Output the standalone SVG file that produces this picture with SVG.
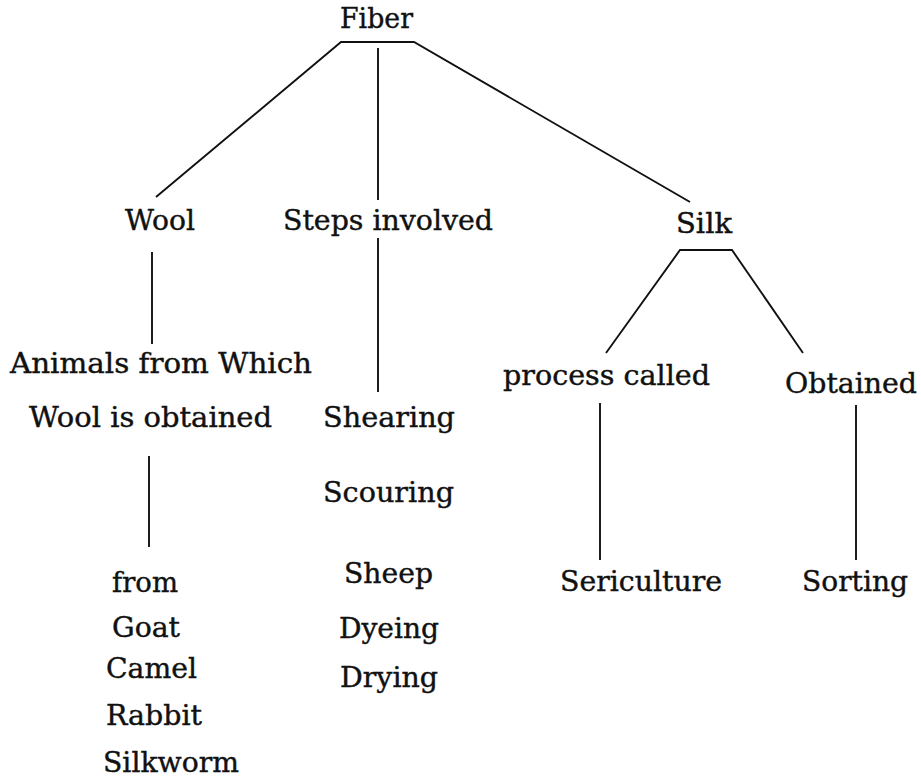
<svg xmlns="http://www.w3.org/2000/svg" width="921" height="780" viewBox="0 0 921 780">
<style>
text{font-family:"DejaVu Serif","Liberation Serif",serif;font-size:27px;fill:#111;stroke:#111;stroke-width:0.4}
.c line,.c polyline{stroke:#111;stroke-width:1.9;fill:none}
</style>
<rect width="921" height="780" fill="#fff"/>
<g class="c" id="connectors">
<polyline points="156,197 341,42 414,42 690,202"/>
<line x1="378" y1="48" x2="378" y2="200"/>
<line x1="152" y1="252" x2="152" y2="344"/>
<line x1="378" y1="238" x2="378" y2="392"/>
<line x1="149" y1="456" x2="149" y2="547"/>
<polyline points="606,353 680,250 732,250 803,353"/>
<line x1="600" y1="403" x2="600" y2="560"/>
<line x1="856" y1="405" x2="856" y2="560"/>
</g>
<g id="fiber"><text x="340" y="28" textLength="73" lengthAdjust="spacingAndGlyphs">Fiber</text></g>
<g id="wool"><text x="125" y="230" textLength="70" lengthAdjust="spacingAndGlyphs">Wool</text></g>
<g id="steps"><text x="283" y="230" textLength="210" lengthAdjust="spacingAndGlyphs">Steps involved</text></g>
<g id="silk"><text x="676" y="233" textLength="56" lengthAdjust="spacingAndGlyphs">Silk</text></g>
<g id="animals">
<text x="10" y="373" textLength="302" lengthAdjust="spacingAndGlyphs">Animals from Which</text>
<text x="29" y="427" textLength="243" lengthAdjust="spacingAndGlyphs">Wool is obtained</text>
</g>
<g id="stepslist">
<text x="323" y="427" textLength="132" lengthAdjust="spacingAndGlyphs">Shearing</text>
<text x="323" y="502" textLength="131" lengthAdjust="spacingAndGlyphs">Scouring</text>
<text x="344" y="583" textLength="89" lengthAdjust="spacingAndGlyphs">Sheep</text>
<text x="339" y="638" textLength="100" lengthAdjust="spacingAndGlyphs">Dyeing</text>
<text x="340" y="687" textLength="98" lengthAdjust="spacingAndGlyphs">Drying</text>
</g>
<g id="process"><text x="503" y="385" textLength="207" lengthAdjust="spacingAndGlyphs">process called</text></g>
<g id="obtained"><text x="785" y="393" textLength="132" lengthAdjust="spacingAndGlyphs">Obtained</text></g>
<g id="sericulture"><text x="560" y="591" textLength="162" lengthAdjust="spacingAndGlyphs">Sericulture</text></g>
<g id="sorting"><text x="802" y="591" textLength="106" lengthAdjust="spacingAndGlyphs">Sorting</text></g>
<g id="fromlist">
<text x="112" y="592" textLength="66" lengthAdjust="spacingAndGlyphs">from</text>
<text x="112" y="637" textLength="68" lengthAdjust="spacingAndGlyphs">Goat</text>
<text x="106" y="678" textLength="91" lengthAdjust="spacingAndGlyphs">Camel</text>
<text x="106" y="725" textLength="96" lengthAdjust="spacingAndGlyphs">Rabbit</text>
<text x="103" y="772" textLength="136" lengthAdjust="spacingAndGlyphs">Silkworm</text>
</g>
</svg>
